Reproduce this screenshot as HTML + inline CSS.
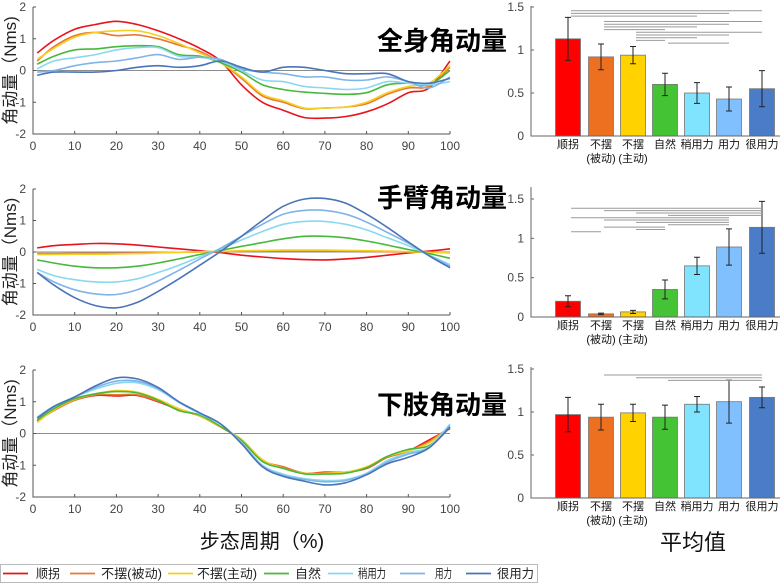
<!DOCTYPE html>
<html><head><meta charset="utf-8">
<style>
html,body{margin:0;padding:0;background:#fff;}
svg{display:block;font-family:"Liberation Sans","Noto Sans CJK SC",sans-serif;}
</style></head>
<body>
<svg id="fig" width="784" height="584" viewBox="0 0 784 584" xmlns="http://www.w3.org/2000/svg">
<text x="377" y="50" font-size="26" font-weight="bold" fill="#000">全身角动量</text>
<text x="377" y="207" font-size="26" font-weight="bold" fill="#000">手臂角动量</text>
<text x="377" y="414" font-size="26" font-weight="bold" fill="#000">下肢角动量</text>
<text x="262" y="548" font-size="20" text-anchor="middle" fill="#111">步态周期（%)</text>
<text x="693" y="550" font-size="22" text-anchor="middle" fill="#111">平均值</text>
<g id="legend"></g>
</svg>
<script>
// ---------- data ----------
const xPct = [1,5,10,15,20,25,30,35,40,45,50,55,60,65,70,75,80,85,90,95,100];
const seriesNames = ['顺拐','不摆(被动)','不摆(主动)','自然','稍用力','用力','很用力'];
const barLabels1 = ['顺拐','不摆','不摆','自然','稍用力','用力','很用力'];
const barLabels2 = ['','(被动)','(主动)','','','',''];
const colors = ['#e8141c','#e87a30','#f5d020','#48b83c','#8ad8f0','#80b4e8','#4a74b8'];
const barColors = ['#ff0000','#ec7020','#ffd200','#44c434','#80e4ff','#80c0ff','#4a7cc8'];
const lineTicks = [0,10,20,30,40,50,60,70,80,90,100];
const lineYTicks = [-2,-1,0,1,2];
const barYTicks = [0,0.5,1,1.5];

const wholeRed = [0.55,0.95,1.3,1.45,1.55,1.45,1.25,1.0,0.7,0.3,-0.45,-1.0,-1.25,-1.48,-1.5,-1.45,-1.3,-1.05,-0.7,-0.55,0.3];
const wholeOrange = [0.3,0.75,1.1,1.2,1.1,1.12,1.0,0.8,0.6,0.25,-0.25,-0.8,-1.0,-1.2,-1.18,-1.15,-1.05,-0.75,-0.55,-0.5,0.1];
const wholeYellow = [0.35,0.7,1.05,1.2,1.25,1.25,1.1,0.85,0.55,0.25,-0.2,-0.75,-0.95,-1.18,-1.18,-1.15,-1.0,-0.7,-0.5,-0.4,0.15];
const wholeGreen = [0.2,0.45,0.65,0.68,0.75,0.78,0.75,0.5,0.45,0.25,-0.05,-0.45,-0.6,-0.68,-0.72,-0.75,-0.7,-0.45,-0.4,-0.45,0.0];
const wholeCyan = [0.05,0.3,0.4,0.5,0.65,0.72,0.72,0.45,0.42,0.3,0.0,-0.3,-0.35,-0.5,-0.55,-0.6,-0.55,-0.35,-0.4,-0.45,-0.35];
const wholeLight = [-0.05,0.0,0.15,0.25,0.3,0.4,0.5,0.35,0.42,0.35,0.05,-0.05,-0.1,-0.2,-0.2,-0.3,-0.3,-0.2,-0.35,-0.55,-0.2];
const wholeDark = [-0.15,-0.05,-0.05,-0.05,0.0,0.1,0.15,0.1,0.15,0.3,0.1,-0.05,0.1,0.1,0.0,-0.1,-0.1,-0.1,-0.35,-0.4,-0.25];

const armRed = [0.13,0.2,0.24,0.27,0.26,0.22,0.16,0.1,0.04,-0.02,-0.1,-0.16,-0.21,-0.24,-0.25,-0.22,-0.17,-0.1,-0.03,0.03,0.1];
const armOrange = [-0.05,-0.05,-0.04,-0.04,-0.04,-0.03,-0.02,-0.01,0.0,0.01,0.02,0.03,0.03,0.03,0.03,0.03,0.02,0.01,0.0,-0.01,-0.02];
const armYellow = [-0.08,-0.08,-0.07,-0.07,-0.06,-0.05,-0.03,-0.01,0.01,0.02,0.04,0.05,0.06,0.06,0.06,0.05,0.04,0.03,0.01,-0.01,-0.03];
const armGreen = [-0.25,-0.35,-0.45,-0.5,-0.5,-0.45,-0.35,-0.22,-0.08,0.05,0.18,0.3,0.42,0.5,0.5,0.45,0.35,0.22,0.08,-0.05,-0.2];
const armCyan = [-0.55,-0.75,-0.88,-0.95,-0.95,-0.85,-0.65,-0.42,-0.15,0.1,0.38,0.65,0.88,0.97,0.97,0.88,0.7,0.45,0.2,-0.1,-0.4];
const armLight = [-0.65,-0.95,-1.2,-1.33,-1.35,-1.2,-0.92,-0.58,-0.22,0.12,0.5,0.88,1.2,1.32,1.32,1.2,0.95,0.62,0.28,-0.1,-0.45];
const armDark = [-0.65,-1.05,-1.45,-1.7,-1.77,-1.6,-1.25,-0.85,-0.42,0.02,0.5,1.0,1.45,1.68,1.7,1.55,1.2,0.78,0.32,-0.12,-0.5];

const legRed = [0.4,0.75,1.05,1.2,1.18,1.2,1.0,0.75,0.55,0.2,-0.2,-0.85,-1.05,-1.25,-1.22,-1.22,-1.1,-0.75,-0.55,-0.2,0.15];
const legOrange = [0.38,0.72,1.05,1.22,1.22,1.22,1.02,0.78,0.55,0.2,-0.2,-0.85,-1.05,-1.25,-1.25,-1.22,-1.08,-0.75,-0.55,-0.25,0.2];
const legYellow = [0.35,0.75,1.08,1.25,1.35,1.3,1.08,0.78,0.55,0.2,-0.18,-0.82,-1.1,-1.25,-1.25,-1.22,-1.05,-0.72,-0.55,-0.3,0.2];
const legGreen = [0.42,0.78,1.1,1.25,1.32,1.28,1.05,0.72,0.58,0.22,-0.22,-0.88,-1.1,-1.27,-1.28,-1.25,-1.08,-0.72,-0.5,-0.38,0.18];
const legCyan = [0.52,0.85,1.15,1.4,1.58,1.6,1.38,0.98,0.62,0.3,-0.28,-1.0,-1.28,-1.42,-1.48,-1.45,-1.25,-0.85,-0.6,-0.42,0.3];
const legLight = [0.5,0.85,1.15,1.45,1.65,1.65,1.42,1.0,0.65,0.3,-0.3,-1.02,-1.32,-1.45,-1.52,-1.48,-1.28,-0.9,-0.65,-0.45,0.25];
const legDark = [0.48,0.85,1.15,1.5,1.75,1.72,1.45,1.0,0.65,0.3,-0.32,-1.05,-1.35,-1.5,-1.62,-1.55,-1.3,-0.95,-0.75,-0.45,0.2];

const wholeMeans = [1.13,0.92,0.94,0.60,0.50,0.43,0.55];
const wholeErr = [0.25,0.15,0.10,0.13,0.12,0.14,0.21];
const armMeans = [0.20,0.04,0.065,0.35,0.65,0.89,1.14];
const armErr = [0.07,0.01,0.02,0.12,0.11,0.23,0.33];
const legMeans = [0.97,0.94,0.99,0.94,1.09,1.12,1.17];
const legErr = [0.20,0.15,0.10,0.14,0.09,0.25,0.12];

const wholeSig = [[0,6],[0,5],[0,4],null,[1,6],[1,5],[1,4],[1,3],[2,6],[2,5],[2,4],[2,3],[3,5]];
const armSig = [[0,6],[1,6],[2,6],[3,6],[0,5],[1,5],[2,5],[3,5],[1,3],[2,3],[0,1]];
const legSig = [[1,6],[2,6],[3,6]];

// ---------- drawing ----------
const svg = document.getElementById('fig');
const NS = 'http://www.w3.org/2000/svg';
function mk(tag, attrs, parent){
  const e = document.createElementNS(NS, tag);
  for (const k in attrs) e.setAttribute(k, attrs[k]);
  (parent||svg).appendChild(e);
  return e;
}
function smoothPath(pts){
  let d = 'M'+pts[0][0].toFixed(1)+','+pts[0][1].toFixed(1);
  for (let i=0;i<pts.length-1;i++){
    const p0=pts[Math.max(0,i-1)], p1=pts[i], p2=pts[i+1], p3=pts[Math.min(pts.length-1,i+2)];
    const c1=[p1[0]+(p2[0]-p0[0])/6, p1[1]+(p2[1]-p0[1])/6];
    const c2=[p2[0]-(p3[0]-p1[0])/6, p2[1]-(p3[1]-p1[1])/6];
    d+=' C'+c1[0].toFixed(1)+','+c1[1].toFixed(1)+' '+c2[0].toFixed(1)+','+c2[1].toFixed(1)+' '+p2[0].toFixed(1)+','+p2[1].toFixed(1);
  }
  return d;
}

function lineChart(name, top, bottom, series){
  const x0=33, x1=450;
  const g = mk('g', {});
  
  
  const xs = v => x0 + (v/100)*(x1-x0);
  const ys = v => top + (2-v)/4*(bottom-top);
  const z = mk('line',{x1:x0,x2:x1,y1:ys(0),y2:ys(0),stroke:'#8c8c8c','stroke-width':1},g);
  
  
  series.forEach((s,i)=>{
    const pts = s.map((v,k)=>[xs(xPct[k]), ys(v)]);
    const p = mk('path',{d:smoothPath(pts),fill:'none',stroke:colors[i],'stroke-width':1.6},g);
    
    
  });
  const ax = mk('path',{d:`M${x0},${top} V${bottom} H${x1}`,fill:'none',stroke:'#555','stroke-width':1},g);
  
  
  lineTicks.forEach(t=>{
    mk('line',{x1:xs(t),x2:xs(t),y1:bottom,y2:bottom-3,stroke:'#555'},g);
    const tx = mk('text',{x:xs(t),y:bottom+16,'font-size':12,'text-anchor':'middle',fill:'#444'},g);
    tx.textContent=t;
    
    
  });
  lineYTicks.forEach(t=>{
    mk('line',{x1:x0,x2:x0+3,y1:ys(t),y2:ys(t),stroke:'#555'},g);
    const tx = mk('text',{x:x0-7,y:ys(t)+4,'font-size':12,'text-anchor':'end',fill:'#444'},g);
    tx.textContent=t;
    
    
  });
  const cy=(top+bottom)/2;
  const yl = mk('text',{x:16,y:cy,'font-size':17,'text-anchor':'middle',fill:'#222',transform:`rotate(-90 16 ${cy})`},g);
  yl.textContent='角动量（Nms)';
  
  
}

function barChart(name, zeroY, topY, axisTop, means, errs, sig, sigY0, sigStep){
  const xL=531, xR=780;
  const centers=[568,601,633,665,697,729,762];
  const g = mk('g', {});
  
  
  const ys = v => zeroY - v/1.5*(zeroY-topY);
  means.forEach((m,i)=>{
    const r = mk('rect',{x:centers[i]-12.5,y:ys(m),width:25,height:zeroY-ys(m),fill:barColors[i],stroke:'#777','stroke-width':0.8},g);
    
    
    const e = mk('path',{d:`M${centers[i]},${ys(m-errs[i])} V${ys(m+errs[i])} M${centers[i]-3},${ys(m-errs[i])} h6 M${centers[i]-3},${ys(m+errs[i])} h6`,stroke:'#222','stroke-width':1,fill:'none'},g);
    
    
    const l1 = mk('text',{x:centers[i],y:zeroY+12,'font-size':11,'text-anchor':'middle',fill:'#111'},g);
    l1.textContent=barLabels1[i];
    
    
    if (barLabels2[i]){
      const l2 = mk('text',{x:centers[i],y:zeroY+26,'font-size':11,'text-anchor':'middle',fill:'#111'},g);
      l2.textContent=barLabels2[i];
      
      
    }
  });
  sig.forEach((p,k)=>{
    if(!p) return;
    const y = sigY0 + k*sigStep;
    const s = mk('line',{x1:centers[p[0]]+3,x2:centers[p[1]],y1:y,y2:y,stroke:'#999','stroke-width':1},g);
    
    
  });
  const ax = mk('path',{d:`M${xL},${axisTop} V${zeroY} H${xR}`,fill:'none',stroke:'#666','stroke-width':1},g);
  
  
  barYTicks.forEach(t=>{
    mk('line',{x1:xL,x2:xL+3,y1:ys(t),y2:ys(t),stroke:'#666'},g);
    const tx = mk('text',{x:xL-7,y:ys(t)+4,'font-size':12,'text-anchor':'end',fill:'#444'},g);
    tx.textContent=t;
    
    
  });
}

lineChart('whole-body-line-chart', 7, 134, [wholeRed,wholeOrange,wholeYellow,wholeGreen,wholeCyan,wholeLight,wholeDark]);
lineChart('arm-line-chart', 189, 315, [armRed,armOrange,armYellow,armGreen,armCyan,armLight,armDark]);
lineChart('lower-limb-line-chart', 370, 497, [legRed,legOrange,legYellow,legGreen,legCyan,legLight,legDark]);

barChart('whole-body-bar-chart', 136, 7, 6, wholeMeans, wholeErr, wholeSig, 10.7, 2.7);
barChart('arm-bar-chart', 317, 199, 187, armMeans, armErr, armSig, 208.3, 2.35);
barChart('lower-limb-bar-chart', 498, 369, 367, legMeans, legErr, legSig, 375, 2.7);

// legend
const lg = document.getElementById('legend');
mk('rect',{x:0.5,y:564.5,width:537,height:18,fill:'#fff',stroke:'#bbb'},lg);
const legLineX = [3,70,168,264,328,400,466];
const legTextX = [36,101,197,295,358,435,497];
const legTextW = [24,61,60,26,28,17,37];
seriesNames.forEach((n,i)=>{
  const ln = mk('line',{x1:legLineX[i],x2:legLineX[i]+25,y1:573.5,y2:573.5,stroke:colors[i],'stroke-width':1.8},lg);
  
  
  const t = mk('text',{x:legTextX[i],y:578,'font-size':12.5,fill:'#222',textLength:legTextW[i],lengthAdjust:'spacingAndGlyphs'},lg);
  t.textContent=n;
  
  
});
</script>
</body></html>
